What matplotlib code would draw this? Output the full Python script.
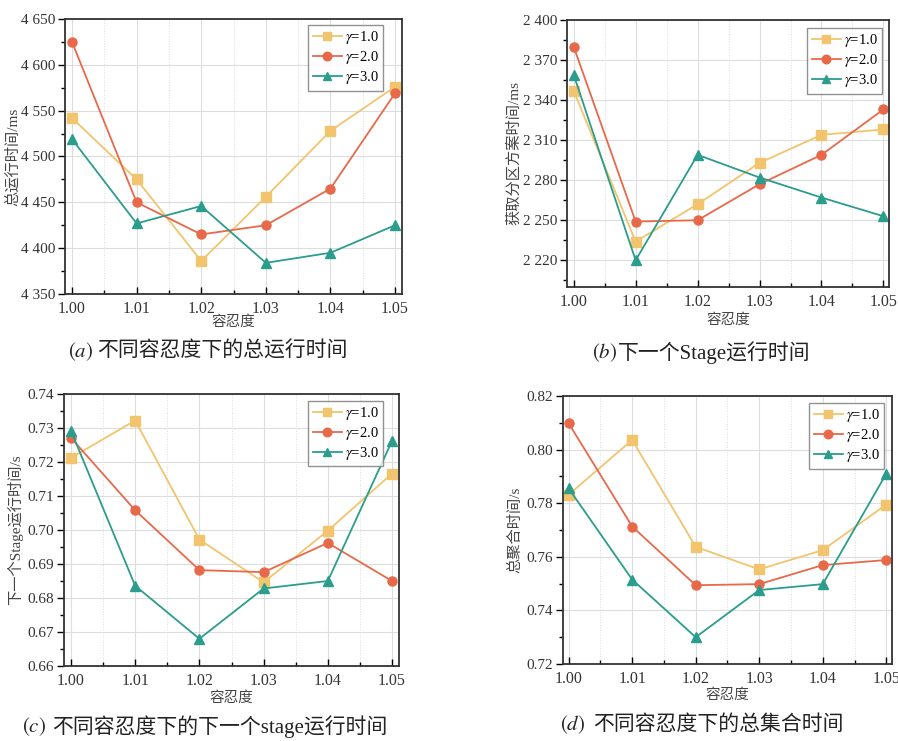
import matplotlib.pyplot as plt
from matplotlib.ticker import FuncFormatter, MultipleLocator

plt.rcParams['font.family'] = ['Liberation Serif', 'Noto Sans CJK SC']
plt.rcParams['mathtext.fontset'] = 'stix'

tolerance = [1.00, 1.01, 1.02, 1.03, 1.04, 1.05]
gammas = ["1.0", "2.0", "3.0"]

# (a) total run time / ms
total_g1 = [4542, 4475, 4386, 4456, 4528, 4576]
total_g2 = [4625, 4450, 4415, 4425, 4465, 4569]
total_g3 = [4519, 4427, 4446, 4384, 4395, 4425]

# (b) partition plan time / ms
part_g1 = [2347, 2234, 2262, 2293, 2314, 2318]
part_g2 = [2380, 2249, 2250, 2277, 2299, 2333]
part_g3 = [2359, 2220, 2299, 2282, 2267, 2253]

# (c) next stage run time / s
stage_g1 = [0.7212, 0.7322, 0.6972, 0.6846, 0.6998, 0.7166]
stage_g2 = [0.7271, 0.7058, 0.6882, 0.6876, 0.6962, 0.6850]
stage_g3 = [0.7292, 0.6836, 0.6680, 0.6828, 0.6850, 0.7262]

# (d) total aggregate time / s
agg_g1 = [0.7832, 0.8036, 0.7637, 0.7553, 0.7625, 0.7795]
agg_g2 = [0.8098, 0.7713, 0.7494, 0.7498, 0.7569, 0.7588]
agg_g3 = [0.7855, 0.7515, 0.7300, 0.7476, 0.7498, 0.7910]

colors = ["#F2C46D", "#E8694A", "#2A9D8C"]
markers = ["s", "o", "^"]


def space_thousands(v, pos):
    return "{:,.0f}".format(v).replace(",", " ")


def draw(ax, series, ylim, major, minor, ylabel, fmt, leg_anchor, xlab_y, ylab_x):
    for vals, c, m, g in zip(series, colors, markers, gammas):
        ax.plot(tolerance, vals, color=c, marker=m, markersize=6.5, lw=1.3,
                label=r"$\gamma$=" + g)
    ax.set_ylim(*ylim)
    ax.set_yticks(major)
    ax.yaxis.set_minor_locator(MultipleLocator(minor))
    ax.yaxis.set_major_formatter(fmt)
    ax.set_xticks(tolerance)
    ax.set_xticklabels(["%.2f" % t for t in tolerance])
    ax.xaxis.set_minor_locator(MultipleLocator(0.005))
    ax.grid(True, which="major", color="#dddddd", lw=0.8)
    ax.grid(True, which="minor", axis="x", color="#dddddd", lw=0.7, ls=":")
    ax.set_axisbelow(True)
    ax.tick_params(axis="y", which="both", direction="out", labelsize=11,
                   labelcolor="#333333", pad=2)
    ax.tick_params(axis="x", which="both", direction="in", labelsize=11.5,
                   labelcolor="#333333", pad=5)
    ax.tick_params(which="major", length=5, width=1)
    ax.tick_params(which="minor", length=3, width=1)
    for s in ax.spines.values():
        s.set_linewidth(1.3)
        s.set_color("#333333")
    ax.set_xlabel("容忍度", fontsize=10.5, color="#444444", va="center")
    ax.xaxis.set_label_coords(0.5, xlab_y)
    ax.set_ylabel(ylabel, fontsize=11, color="#444444", va="center")
    ax.yaxis.set_label_coords(ylab_x, 0.5)
    leg = ax.legend(loc="upper right", bbox_to_anchor=leg_anchor,
                    fontsize=10.5, fancybox=False, edgecolor="#777777",
                    handlelength=2.0, labelspacing=0.2, borderpad=0.3,
                    handletextpad=0.2, borderaxespad=0, markerscale=0.95)
    leg.get_frame().set_linewidth(1.0)


fig = plt.figure(figsize=(8.98, 7.41), dpi=100)

ax_a = fig.add_axes([0.0724, 0.6032, 0.3753, 0.3712])
ax_b = fig.add_axes([0.6314, 0.6127, 0.3586, 0.3603])
ax_c = fig.add_axes([0.0713, 0.1012, 0.3730, 0.3671])
ax_d = fig.add_axes([0.6269, 0.1039, 0.3664, 0.3617])

draw(ax_a, [total_g1, total_g2, total_g3], (4350, 4650),
     [4350, 4400, 4450, 4500, 4550, 4600, 4650], 25, "总运行时间/ms",
     FuncFormatter(space_thousands), (0.944, 0.978), -0.102, -0.155)
ax_a.set_xlim(0.99892, 1.05108)

draw(ax_b, [part_g1, part_g2, part_g3], (2200, 2400),
     [2220, 2250, 2280, 2310, 2340, 2370, 2400], 15, "获取分区方案时间/ms",
     FuncFormatter(space_thousands), (0.978, 0.970), -0.124, -0.165)
ax_b.set_xlim(0.99892, 1.0509)

draw(ax_c, [stage_g1, stage_g2, stage_g3], (0.66, 0.74),
     [0.66, 0.67, 0.68, 0.69, 0.70, 0.71, 0.72, 0.73, 0.74], 0.005,
     "下一个Stage运行时间/s", FuncFormatter(lambda v, p: "%.2f" % v),
     (0.952, 0.975), -0.118, -0.145)
ax_c.set_xlim(0.99892, 1.05108)

draw(ax_d, [agg_g1, agg_g2, agg_g3], (0.72, 0.82),
     [0.72, 0.74, 0.76, 0.78, 0.80, 0.82], 0.01,
     "总聚合时间/s", FuncFormatter(lambda v, p: "%.2f" % v),
     (0.976, 0.974), -0.116, -0.145)
ax_d.set_xlim(0.9991, 1.0509)

cap = dict(ha="left", va="center", fontsize=15, color="#222222")
captions = [
    (0.0757, 0.108, 0.525, "a", "不同容忍度下的总运行时间"),
    (0.659, 0.688, 0.524, "b", "下一个Stage运行时间"),
    (0.0245, 0.058, 0.019, "c", "不同容忍度下的下一个stage运行时间"),
    (0.6236, 0.660, 0.0216, "d", "不同容忍度下的总集合时间"),
]
for xp, xt, y, letter, body in captions:
    fig.text(xp, y, r"$(\mathit{" + letter + r"})$", **cap)
    fig.text(xt, y, body, **cap)

fig.savefig("out.png", dpi=100)
